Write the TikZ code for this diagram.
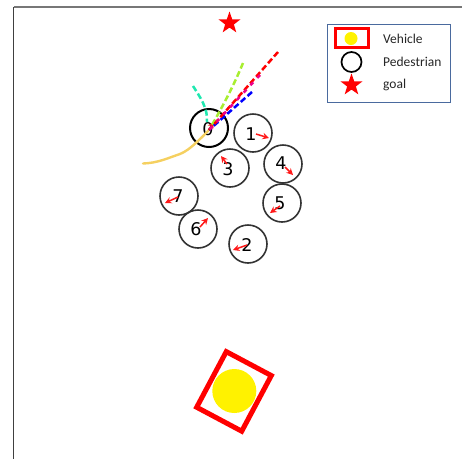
\documentclass[tikz,border=0pt]{standalone}
\usepackage{fontspec}
\setmainfont{DejaVu Sans}
\newfontfamily\legendfont{Carlito}
\usetikzlibrary{positioning, arrows.meta, shapes.geometric}

\definecolor{framegray}{HTML}{777777}
\definecolor{legendblue}{HTML}{4A6A9E}
\definecolor{trailorange}{HTML}{F5D060}
\definecolor{trailteal}{HTML}{1FE8B0}
\definecolor{trailgreen}{HTML}{A8EE30}

\tikzset{
    pedestrian/.style={circle, draw=black!80, line width=1.6pt, minimum size=38pt, inner sep=0pt},
    heading/.style={-{Stealth[length=6.5pt, width=6.5pt]}, red!90!white, line width=1.5pt},
    goalstar/.style={star, star points=5, star point ratio=2.5, fill=red, draw=none, minimum size=23pt, inner sep=0pt},
    legendtext/.style={anchor=west, inner sep=0pt, font=\legendfont\fontsize{13.5}{13.5}\selectfont, text=black!85},
    trail/.style={dash pattern=on 6pt off 3pt, line width=2.5pt}
}

\begin{document}
\begin{tikzpicture}[x=1pt, y=-1pt]
    \useasboundingbox (0,0) rectangle (462,459);

    % Frame
    \coordinate (frametl) at (13.5,7);
    \coordinate (frametr) at (462,7);
    \coordinate (framebl) at (13.5,459);
    \draw[framegray, line width=1.8pt] (frametl) -- (frametr);
    \draw[black!75, line width=1.2pt] (frametl) -- (framebl);

    % Goal
    \node[goalstar] (goal) at (229.5,23) {};

    % Pedestrians
    \foreach \id/\px/\py in {1/253/133, 2/248/244, 3/230/168, 4/283/164, 5/282/203, 6/198/229, 7/179/196}
        \node[pedestrian] (ped\id) at (\px,\py) {};
    \node[pedestrian, draw=black, line width=2pt] (ped0) at (209,128) {};

    % Numbers
    \foreach \id/\px/\py in {0/208/129, 1/251/134, 2/247/245, 3/228/169, 4/281/163, 5/280/203, 6/196/229, 7/178/196}
        \node[inner sep=0pt, font=\fontsize{17.5}{17.5}\selectfont, text=black] (num\id) at (\px,\py) {\id};

    % Heading arrows
    \foreach \id/\sx/\sy/\ex/\ey in {1/256/134/269/138, 2/247/245/233/250, 3/227/164/221/156, 4/285/167/293/175, 5/280/206/270/213, 6/200/227/208/218, 7/178/197/165/203, 0/210/128/214/122}{
        \coordinate (tail\id) at (\sx,\sy);
        \coordinate (tip\id) at (\ex,\ey);
        \draw[heading] (tail\id) -- (tip\id);
    }

    % Trails
    \coordinate (hist) at (143,163.5);
    \coordinate (start) at (209,130);
    \coordinate (pred1) at (193,86);
    \coordinate (pred2) at (243,63);
    \coordinate (pred3) at (278,52);
    \coordinate (pred4) at (260,75);
    \coordinate (pred5) at (252,92);
    \draw[trailorange, line width=2.4pt, line cap=round] (hist) .. controls (158,163) and (168,158) .. (180,154) .. controls (190,150) and (200,139) .. (start);
    \draw[trail, trailteal] (pred1) .. controls (200,97) and (208,108) .. (207,122);
    \draw[trail, trailgreen] (pred2) .. controls (234,85) and (222,108) .. (start);
    \draw[trail, blue] (pred5) -- (start);
    \draw[trail, red] (pred3) -- (start);
    \draw[trail, magenta, dash pattern=on 4pt off 6pt] (pred4) -- (start);

    % Vehicle
    \node[circle, fill=yellow, minimum size=44pt, inner sep=0pt] (carbody) at (234.3,391) {};
    \node[draw=red, line width=5pt, rotate=-28, minimum width=51pt, minimum height=63pt] (car) at (234,391.4) {};

    % Legend
    \node[draw=legendblue, line width=1pt, minimum width=123pt, minimum height=78pt, inner sep=0pt] (legend) at (388.5,63) {};
    \node[circle, fill=yellow, minimum size=13pt, inner sep=0pt] (legcarbody) at (351,38.5) {};
    \node[draw=red, line width=3pt, minimum width=33pt, minimum height=19pt, inner sep=0pt] (legcar) at (351.5,38) {};
    \node[circle, draw=black, line width=1.7pt, minimum size=20pt, inner sep=0pt] (legped) at (351.5,62) {};
    \node[goalstar] (leggoal) at (351.5,85) {};
    \node[legendtext] (textcar) at (383,38.5) {Vehicle};
    \node[legendtext] (textped) at (383,62) {Pedestrian};
    \node[legendtext] (textgoal) at (383,85) {goal};
\end{tikzpicture}
\end{document}
